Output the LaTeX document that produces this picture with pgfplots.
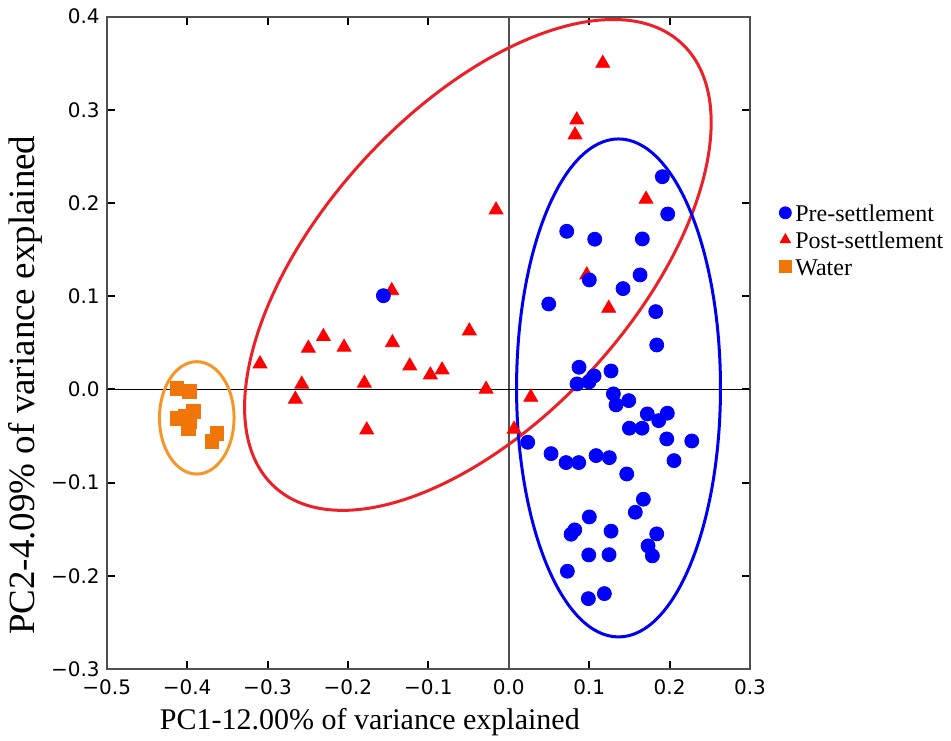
\documentclass[border=0pt]{standalone}
\usepackage{fontspec}
\setmainfont{Liberation Serif}
\newfontfamily\dejavu{DejaVu Sans}
\usepackage{pgfplots}
\pgfplotsset{compat=1.18}

\definecolor{preblue}{RGB}{0,0,255}
\definecolor{postred}{RGB}{255,0,0}
\definecolor{waterorange}{RGB}{240,118,10}
\definecolor{ellred}{RGB}{235,32,40}
\definecolor{ellblue}{RGB}{0,0,240}
\definecolor{ellorange}{RGB}{247,150,40}
\definecolor{framegray}{RGB}{80,80,80}

\begin{document}
\begin{tikzpicture}
\begin{axis}[
  name=ax,
  scale only axis,
  width=321.65pt, height=326.15pt,
  xmin=-0.5, xmax=0.3, ymin=-0.3, ymax=0.4,
  xtick={-0.5,-0.4,-0.3,-0.2,-0.1,0,0.1,0.2,0.3},
  xticklabels={−0.5,−0.4,−0.3,−0.2,−0.1,0.0,0.1,0.2,0.3},
  ytick={-0.3,-0.2,-0.1,0,0.1,0.2,0.3,0.4},
  yticklabels={−0.3,−0.2,−0.1,0.0,0.1,0.2,0.3,0.4},
  tick align=inside,
  major tick length=4pt,
  tick style={black, line width=1pt},
  axis line style={framegray, line width=1pt},
  ticklabel style={font=\dejavu\fontsize{10}{12}\selectfont},
  xticklabel style={yshift=-2pt},
  xlabel={PC1-12.00\% of variance explained},
  ylabel={PC2-4.09\% of variance explained},
  xlabel style={font=\fontsize{15}{18}\selectfont, at={(rel axis cs:0.409,-0.081)}, anchor=center},
  ylabel style={font=\fontsize{18.5}{22}\selectfont, at={(rel axis cs:-0.127,0.435)}, anchor=center},
  legend style={at={(rel axis cs:1.045,0.713)}, anchor=north west, draw=none, fill=none,
    font=\fontsize{12}{14}\selectfont, row sep=5pt, column sep=2pt, inner sep=0pt,
    nodes={inner sep=0pt, text height=8.5pt, text depth=0pt}},
  legend cell align=left,
  reverse legend,
  legend image code/.code={\draw[#1, mark size=3pt] plot coordinates {(0pt,0pt)};},
]
% zero lines
\draw[framegray, line width=1pt] (axis cs:0,-0.3) -- (axis cs:0,0.4);
\draw[black, line width=0.8pt] (axis cs:-0.5,0) -- (axis cs:0.3,0);
% group ellipses
\draw[ellorange, line width=1.5pt] (axis cs:-0.388,-0.0305) ellipse [x radius=0.0464, y radius=0.0603];
\draw[ellred, line width=1.5pt] (axis cs:-0.0384,0.1336) ellipse [x radius=150.5pt, y radius=77.5pt, rotate=47.5];
\draw[ellblue, line width=1.5pt] (axis cs:0.1365,0.0016) ellipse [x radius=0.1268, y radius=0.2672];

\addplot[only marks, mark=square*, color=waterorange, mark size=3.4pt] coordinates {
(-0.4128,0.0013) (-0.3972,-0.0024) (-0.4128,-0.0309) (-0.4025,-0.0292) (-0.3922,-0.0238)
(-0.3963,-0.0345) (-0.3984,-0.0416) (-0.3631,-0.0470) (-0.3693,-0.0560)};
\addlegendentry{Water}

\addplot[only marks, mark=triangle*, color=postred, mark size=4pt] coordinates {
(-0.3093,0.0274) (-0.2654,-0.0105) (-0.2574,0.0056) (-0.2492,0.0442) (-0.2305,0.0567)
(-0.2048,0.0453) (-0.1796,0.0067) (-0.1766,-0.0435) (-0.1455,0.1060) (-0.1447,0.0502)
(-0.1231,0.0252) (-0.0975,0.0156) (-0.0829,0.0209) (-0.0490,0.0628) (-0.0282,0.0002)
(-0.0158,0.1926) (0.0066,-0.0427) (0.0274,-0.0084) (0.0824,0.2731) (0.0846,0.2892)
(0.0970,0.1229) (0.1169,0.3500) (0.1243,0.0871) (0.1707,0.2041)};
\addlegendentry{Post-settlement}

\addplot[only marks, mark=*, color=preblue, mark size=3.5pt] coordinates {
(-0.1559,0.1006) (0.1910,0.2283) (0.1977,0.1883) (0.0721,0.1697) (0.1069,0.1612)
(0.1661,0.1615) (0.1002,0.1175) (0.1633,0.1229) (0.1421,0.1082) (0.0497,0.0917)
(0.1828,0.0835) (0.1840,0.0477) (0.0874,0.0238) (0.0849,0.0059) (0.0998,0.0080)
(0.1061,0.0145) (0.1272,0.0198) (0.1301,-0.0048) (0.1334,-0.0166) (0.1492,-0.0120)
(0.1723,-0.0263) (0.1972,-0.0255) (0.1865,-0.0335) (0.1500,-0.0416) (0.1658,-0.0416)
(0.1965,-0.0531) (0.2276,-0.0553) (0.2055,-0.0764) (0.0236,-0.0567) (0.0526,-0.0689)
(0.0713,-0.0785) (0.0870,-0.0785) (0.1086,-0.0710) (0.1251,-0.0732) (0.1467,-0.0907)
(0.1674,-0.1178) (0.1574,-0.1318) (0.1002,-0.1368) (0.0821,-0.1507) (0.0775,-0.1554)
(0.1272,-0.1521) (0.1840,-0.1550) (0.1732,-0.1679) (0.1786,-0.1786) (0.0995,-0.1776)
(0.1247,-0.1773) (0.0729,-0.1951) (0.1189,-0.2191) (0.0990,-0.2245)};
\addlegendentry{Pre-settlement}
\end{axis}
\pgfresetboundingbox
\path[use as bounding box] ([shift={(-53.35pt,-36pt)}]ax.south west) rectangle ([shift={(100.5pt,8.35pt)}]ax.north east);
\end{tikzpicture}
\end{document}
